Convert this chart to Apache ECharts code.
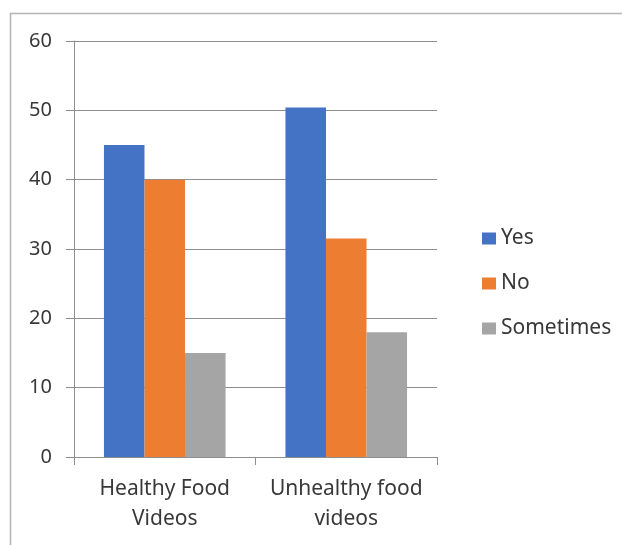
<!DOCTYPE html>
<html>
<head>
<meta charset="utf-8">
<style>
  html, body { margin: 0; padding: 0; background: #ffffff; }
  #chart { width: 622px; height: 545px; }
</style>
<script src="https://cdn.jsdelivr.net/npm/echarts@6/dist/echarts.min.js"></script>
</head>
<body>
<div id="chart"></div>
<script>
// Survey answers per video type
const categories = ['Healthy Food\nVideos', 'Unhealthy food\nvideos'];
const seriesNames = ['Yes', 'No', 'Sometimes'];
const yesValues = [45, 50.4];
const noValues = [40, 31.5];
const sometimesValues = [15, 18];
const yTicks = { min: 0, max: 60, interval: 10 };

const colors = ['#4472c4', '#ed7d31', '#a5a5a5'];
const textColor = '#383838';
const lineColor = '#8e8e8e';
const fontFamily = '"Noto Sans", "Open Sans", sans-serif';

const chart = echarts.init(document.getElementById('chart'), null, { renderer: 'canvas' });

const valueSets = [yesValues, noValues, sometimesValues];

chart.setOption({
  animation: false,
  backgroundColor: '#ffffff',
  color: colors,
  textStyle: { fontFamily: fontFamily },
  graphic: [{
    type: 'rect',
    shape: { x: 10.5, y: 13.5, width: 800, height: 800 },
    style: { fill: 'none', stroke: '#b4b4b4', lineWidth: 1.5 },
    silent: true,
    z: -10
  }],
  grid: { left: 74, top: 41, right: 185, bottom: 88, containLabel: false },
  legend: {
    orient: 'vertical',
    left: 477,
    top: 223,
    icon: 'rect',
    itemWidth: 14,
    itemHeight: 12,
    itemGap: 24,
    data: seriesNames,
    textStyle: { fontSize: 21, color: textColor, fontFamily: fontFamily, lineHeight: 21 }
  },
  xAxis: {
    type: 'category',
    data: categories,
    axisLine: { show: true, lineStyle: { color: lineColor, width: 1 } },
    axisTick: { show: true, length: 8, lineStyle: { color: lineColor } },
    axisLabel: {
      fontSize: 21,
      lineHeight: 30,
      color: textColor,
      margin: 17,
      interval: 0,
      fontFamily: fontFamily
    },
    splitLine: { show: false }
  },
  yAxis: {
    type: 'value',
    min: yTicks.min,
    max: yTicks.max,
    interval: yTicks.interval,
    axisLine: { show: true, lineStyle: { color: lineColor, width: 1 } },
    axisTick: { show: true, length: 8, lineStyle: { color: lineColor } },
    axisLabel: { fontSize: 20, color: textColor, margin: 22, fontFamily: fontFamily },
    splitLine: { show: true, lineStyle: { color: lineColor, width: 1 } }
  },
  series: seriesNames.map((name, i) => ({
    name: name,
    type: 'bar',
    data: valueSets[i],
    barGap: '0%',
    barCategoryGap: '33%',
    itemStyle: { color: colors[i] }
  }))
});
</script>
</body>
</html>
